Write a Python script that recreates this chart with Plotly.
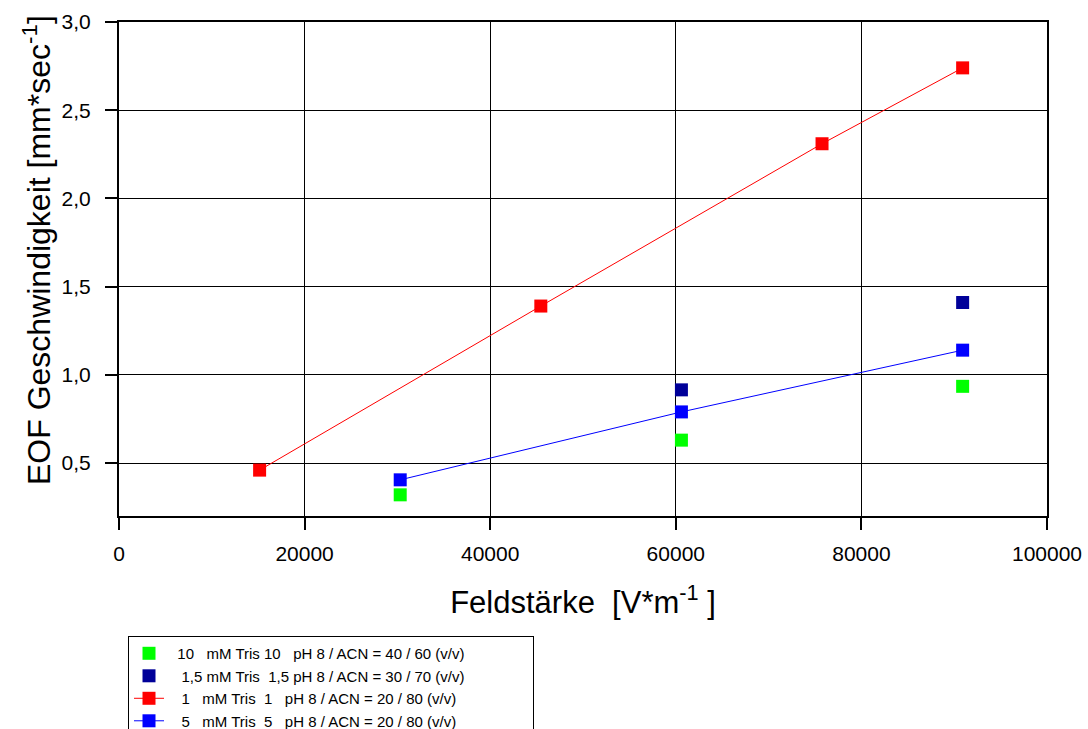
import plotly.graph_objects as go

NB = "\u00a0"

# Data
x_green = [30303, 60606, 90909]
y_green = [0.32, 0.63, 0.935]
x_dark = [60606, 90909]
y_dark = [0.915, 1.41]
x_red = [15152, 45455, 75758, 90909]
y_red = [0.46, 1.39, 2.31, 2.74]
x_blue = [30303, 60606, 90909]
y_blue = [0.405, 0.79, 1.14]

names = [
    f"{NB*2}10{NB*3}mM Tris 10{NB*3}pH 8 / ACN = 40 / 60 (v/v)" + NB * 15,
    f"{NB*3}1,5 mM Tris{NB*2}1,5 pH 8 / ACN = 30 / 70 (v/v)",
    f"{NB*3}1{NB*3}mM Tris{NB*2}1{NB*3}pH 8 / ACN = 20 / 80 (v/v)",
    f"{NB*3}5{NB*3}mM Tris{NB*2}5{NB*3}pH 8 / ACN = 20 / 80 (v/v)",
]
y_title = "EOF Geschwindigkeit [mm*sec<sup>-1</sup>]"
x_title = f"Feldstärke{NB*2}[V*m<sup>-1</sup> ]"

fig = go.Figure()
fig.add_trace(go.Scatter(x=x_green, y=y_green, mode="markers", name=names[0],
                         marker=dict(symbol="square", size=13, color="#00ff00")))
fig.add_trace(go.Scatter(x=x_dark, y=y_dark, mode="markers", name=names[1],
                         marker=dict(symbol="square", size=13, color="#000099")))
fig.add_trace(go.Scatter(x=x_red, y=y_red, mode="lines+markers", name=names[2],
                         line=dict(color="#ff0000", width=1),
                         marker=dict(symbol="square", size=13, color="#ff0000")))
fig.add_trace(go.Scatter(x=x_blue, y=y_blue, mode="lines+markers", name=names[3],
                         line=dict(color="#0000ff", width=1),
                         marker=dict(symbol="square", size=13, color="#0000ff")))

axis_common = dict(showline=True, linecolor="black", linewidth=2, mirror=True,
                   showgrid=True, gridcolor="black", gridwidth=1,
                   ticks="outside", ticklen=12, tickwidth=2, tickcolor="black",
                   zeroline=False, automargin=False,
                   tickfont=dict(size=21, color="black"))

H = 770
fig.update_layout(
    width=1088, height=H,
    margin=dict(l=119, r=41, t=22, b=H - 516),
    paper_bgcolor="white", plot_bgcolor="white",
    font=dict(family="Liberation Sans, Arial, sans-serif", color="black"),
    separators=",.",
    xaxis=dict(range=[0, 100000], dtick=20000, tick0=0, exponentformat="none",
               tickformat="d", ticklabelstandoff=6,
               title=dict(text=x_title, font=dict(size=31), standoff=27),
               **axis_common),
    yaxis=dict(range=[0.2, 3.0], tickvals=[0.5, 1.0, 1.5, 2.0, 2.5, 3.0], tickformat=".1f",
               ticklabelstandoff=10,
               **axis_common),
    legend=dict(x=0.0097, y=-0.243, xanchor="left", yanchor="top",
                bordercolor="black", borderwidth=1, bgcolor="white",
                font=dict(size=15, color="black"), tracegroupgap=0),
    showlegend=True,
    annotations=[dict(text=y_title, xref="paper", yref="paper",
                      x=(37 - 119) / 928, y=(516 - 250) / 494,
                      xanchor="center", yanchor="middle", textangle=-90,
                      showarrow=False, font=dict(size=32, color="black"))],
)

fig.write_html(
    "out.html",
    config={"displayModeBar": False},
    post_script="document.body.style.margin='0';document.documentElement.style.overflow='hidden';document.body.style.overflow='hidden';",
)
